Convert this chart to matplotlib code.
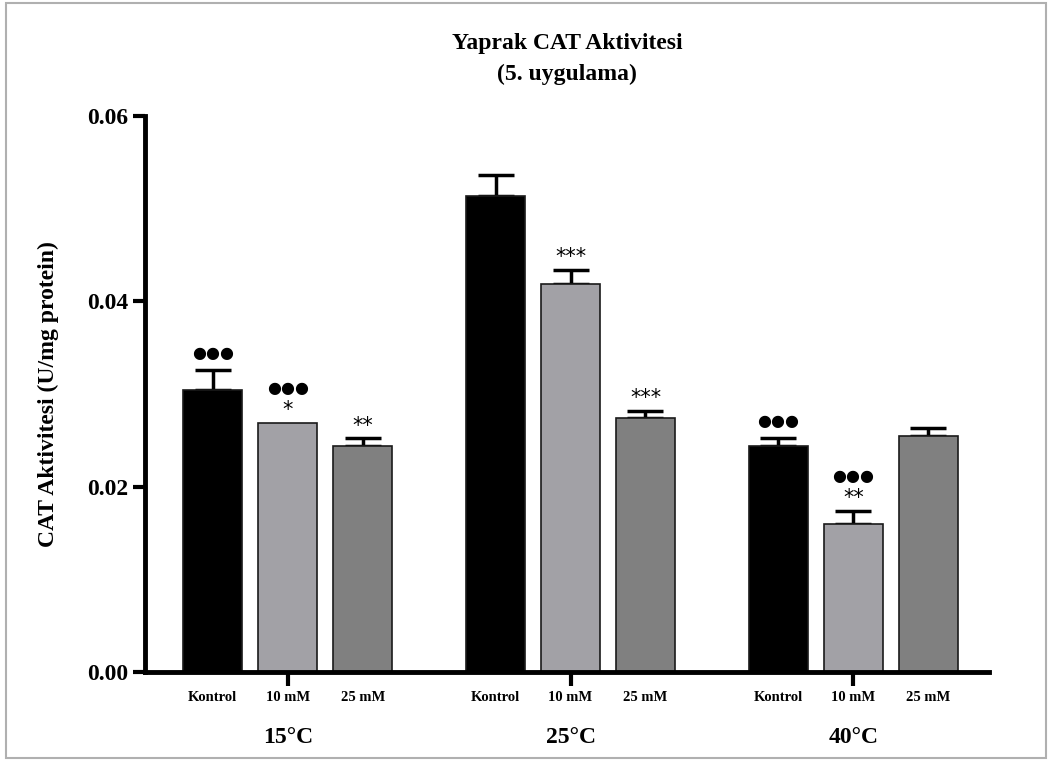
import matplotlib.pyplot as plt
import matplotlib.patches as mpatches
import numpy as np

plt.rcParams['font.family'] = ['Liberation Serif', 'DejaVu Serif']
plt.rcParams['font.weight'] = 'bold'

groups = ['15°C', '25°C', '40°C']
treatments = ['Kontrol', '10 mM', '25 mM']
colors = ['#000000', '#a2a1a6', '#808080']

# rows = temperature groups, columns = treatments
values = [
    [0.0304, 0.0269, 0.0244],
    [0.0514, 0.0419, 0.0274],
    [0.0244, 0.0160, 0.0255],
]
errors = [
    [0.0022, 0.0000, 0.0008],
    [0.0022, 0.0015, 0.0008],
    [0.0008, 0.0014, 0.0008],
]
# significance marks above each bar (dots line, star line)
dots = [
    ['●●●', '●●●', ''],
    ['', '', ''],
    ['●●●', '●●●', ''],
]
stars = [
    ['', '*', '**'],
    ['', '***', '***'],
    ['', '**', ''],
]

fig = plt.figure(figsize=(10.5, 7.6), dpi=100)
ax = fig.add_axes([0.138, 0.1158, 0.804, 0.7316])

offset = 0.265
width = 0.208
for g in range(len(groups)):
    for t in range(len(treatments)):
        x = g + (t - 1) * offset
        v = values[g][t]
        e = errors[g][t]
        ax.bar(x, v, width=width, color=colors[t], edgecolor='#1a1a1a',
               linewidth=1.2, zorder=2)
        if e > 0:
            ax.errorbar(x, v, yerr=[[0], [e]], fmt='none', ecolor='black',
                        elinewidth=2.5, capsize=13, capthick=2.5, zorder=1)
        top = v + e
        if stars[g][t]:
            ax.text(x, top + 0.0003, stars[g][t], ha='center', va='bottom',
                    fontsize=15, family='DejaVu Sans', fontweight='normal')
            top += 0.0019
        if dots[g][t]:
            ax.text(x, top + 0.0010, dots[g][t], ha='center', va='bottom',
                    fontsize=11.5, family='DejaVu Sans', fontweight='normal')
        ax.text(x, -0.0021, treatments[t], ha='center', va='top', fontsize=10.5)

ax.set_xlim(-0.505, 2.48)
ax.set_ylim(0, 0.06)
ax.set_yticks([0, 0.02, 0.04, 0.06])
ax.set_yticklabels(['0.00', '0.02', '0.04', '0.06'], fontsize=17)
ax.set_xticks(range(len(groups)))
ax.set_xticklabels([])
for g, name in enumerate(groups):
    ax.text(g, -0.0059, name, ha='center', va='top', fontsize=17)

ax.spines['top'].set_visible(False)
ax.spines['right'].set_visible(False)
ax.spines['left'].set_linewidth(3.5)
ax.spines['bottom'].set_linewidth(3.5)
ax.tick_params(axis='y', length=9, width=3, pad=3)
ax.tick_params(axis='x', length=10, width=3)

ax.set_ylabel('CAT Aktivitesi (U/mg protein)', fontsize=17, fontweight='bold',
              labelpad=20)
ax.set_title('Yaprak CAT Aktivitesi\n(5. uygulama)', fontsize=17,
             fontweight='bold', pad=26, linespacing=1.6)

fig.patches.append(mpatches.Rectangle((0.006, 0.003), 0.99, 0.993,
                                      transform=fig.transFigure, fill=False,
                                      edgecolor='#b0b0b0', linewidth=1.5))

fig.savefig('out.png', dpi=100)
